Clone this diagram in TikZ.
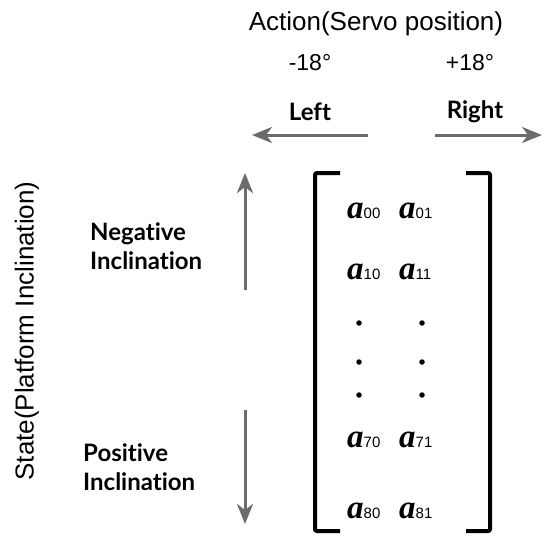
\documentclass[tikz,border=0pt]{standalone}
\usepackage{fontspec}
\setmainfont{Liberation Sans}
\newfontfamily\labelfont[Ligatures=NoCommon]{Lato}
\newfontfamily\entryfont{Liberation Serif}
\usetikzlibrary{arrows.meta,positioning}
\definecolor{arrowgray}{HTML}{6B6B6B}

\begin{document}
\begin{tikzpicture}[
  x=1pt, y=-1pt,
  titletext/.style={
    font=\fontsize{26}{29}\selectfont,
    inner sep=0pt
  },
  angletext/.style={
    font=\fontsize{23}{26}\selectfont,
    inner sep=0pt
  },
  dirtext/.style={
    font=\labelfont\bfseries\fontsize{24}{28}\selectfont,
    inner sep=0pt
  },
  statetext/.style={
    font=\labelfont\bfseries\fontsize{24}{29}\selectfont,
    align=left,
    inner sep=0pt,
    anchor=north west
  },
  entry/.style={
    font=\fontsize{15}{18}\selectfont,
    inner sep=0pt,
    anchor=base west
  },
  dotnode/.style={
    circle,
    fill=black,
    inner sep=0pt,
    minimum size=5.5pt
  },
  dirarrow/.style={
    -{Stealth[length=20pt,width=16pt,inset=6pt]},
    line width=3pt,
    draw=arrowgray
  },
  bracketline/.style={
    line width=4pt,
    rounded corners=2pt
  }
]
  \useasboundingbox (0,0) rectangle (542,536);

  % -------------------------------------------------------------
  % TOP: ACTION AXIS
  % -------------------------------------------------------------
  \node[titletext] (action) at (376,24) {Action(Servo position)};
  \node[angletext] (minus) at (310,63) {-18\textdegree};
  \node[angletext] (plus) at (470,63) {+18\textdegree};
  \node[dirtext] (left) at (310,112) {Left};
  \node[dirtext] (right) at (475,112) {Right};

  \coordinate (lstart) at (368,135);
  \coordinate (lend) at (252,135);
  \coordinate (rstart) at (435,135);
  \coordinate (rend) at (542,135);
  \draw[dirarrow] (lstart) -- (lend);
  \draw[dirarrow] (rstart) -- (rend);

  % -------------------------------------------------------------
  % LEFT: STATE AXIS
  % -------------------------------------------------------------
  \node[titletext, rotate=90] (state) at (27,331) {State(Platform Inclination)};
  \node[statetext] (neg) at (90,223) {Negative\\Inclination};
  \node[statetext] (pos) at (83,444) {Positive\\Inclination};

  \coordinate (ustart) at (245,290);
  \coordinate (uend) at (245,173);
  \coordinate (dstart) at (245,410);
  \coordinate (dend) at (245,524);
  \draw[dirarrow] (ustart) -- (uend);
  \draw[dirarrow] (dstart) -- (dend);

  % -------------------------------------------------------------
  % Q-TABLE MATRIX
  % -------------------------------------------------------------
  \draw[bracketline] (340,173) -- (315,173) -- (315,531) -- (340,531);
  \draw[bracketline] (466,173) -- (490,173) -- (490,531) -- (466,531);

  \foreach \row/\ybase in {0/218, 1/279, 7/447, 8/518} {
    \node[entry] (a\row0) at (347,\ybase)
      {{\entryfont\bfseries\itshape\fontsize{33}{36}\selectfont a}\row0};
    \node[entry] (a\row1) at (399,\ybase)
      {{\entryfont\bfseries\itshape\fontsize{33}{36}\selectfont a}\row1};
  }

  \foreach \k/\ydot in {1/323, 2/362, 3/395} {
    \node[dotnode] (dl\k) at (359,\ydot) {};
    \node[dotnode] (dr\k) at (422,\ydot) {};
  }

\end{tikzpicture}
\end{document}
